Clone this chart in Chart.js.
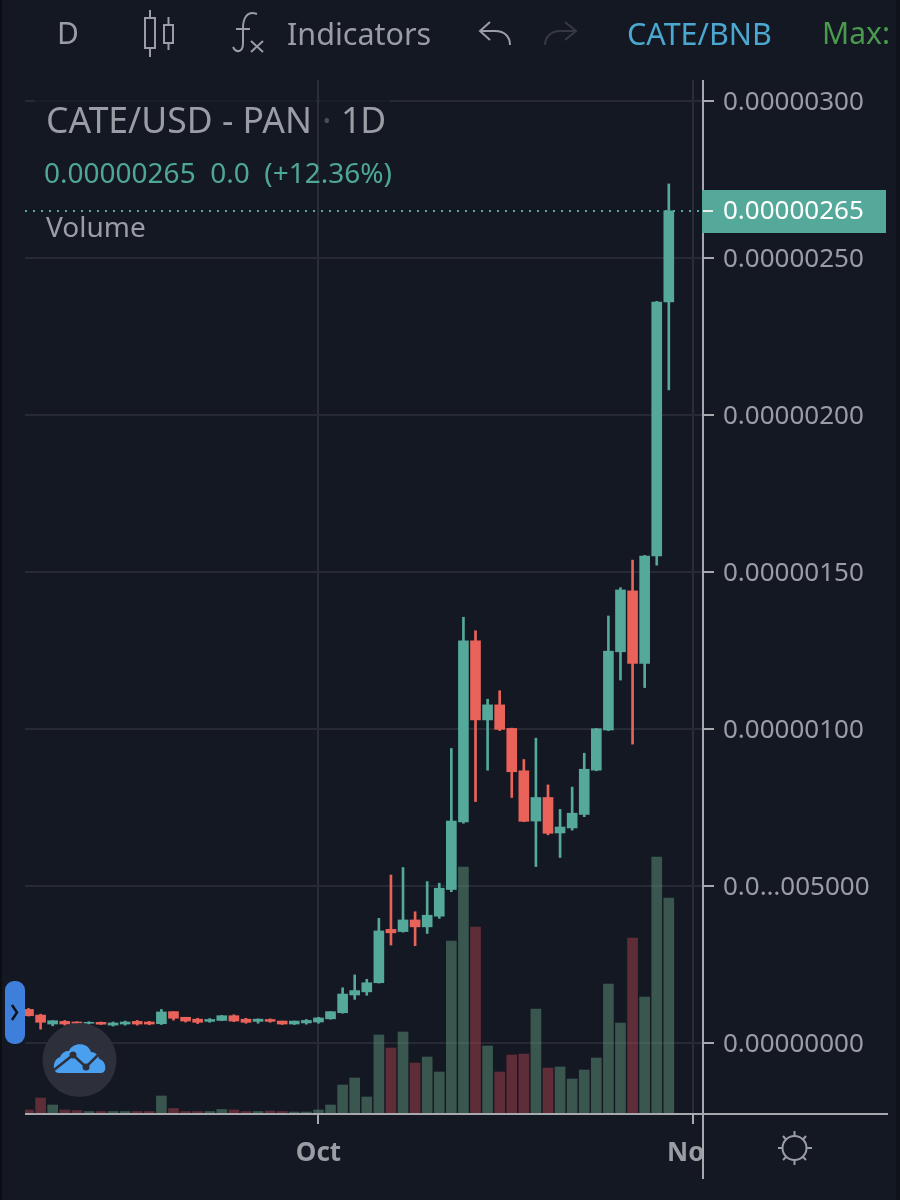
<!DOCTYPE html>
<html>
<head>
<meta charset="utf-8">
<title>CATE/USD</title>
<script src="https://cdn.jsdelivr.net/npm/chart.js@4"></script>
<style>
html, body { margin: 0; padding: 0; background: #141823; }
#wrap { position: relative; width: 900px; height: 1200px; overflow: hidden; font-family: "Noto Sans", sans-serif; }
canvas { position: absolute; left: 0; top: 0; }
.t { position: absolute; white-space: pre; color: #9b9da4; line-height: 1; }
svg { position: absolute; left: 0; top: 0; }
</style>
</head>
<body>
<div id="wrap">
  <canvas id="chart" width="900" height="1200"></canvas>
  <svg width="900" height="1200" fill="none" stroke="#9b9da4" stroke-width="2">
    <rect x="0" y="0" width="2" height="1200" fill="#0c0e14" stroke="none"/>
    <rect x="896" y="0" width="4" height="1200" fill="#101219" stroke="none"/>
    <!-- candle icon -->
    <rect x="145" y="18" width="10" height="30"/>
    <path d="M150 10V18M150 48V57"/>
    <rect x="164" y="25" width="9" height="18"/>
    <path d="M168.500 17V25M168.500 43V50"/>
    <!-- fx -->
    <path d="M257 14C246 10 243 20 243 28V43C243 53 236 53 233 47M236 29H250"/>
    <path d="M251 41L263 52M263 41L251 52"/>
    <!-- undo, redo -->
    <path d="M490 22L480 31L490 40M480 31H495C505 31 510 37 510 45"/>
    <path d="M565 22L576 31L565 40M576 31H560C551 31 545 37 545 45" stroke="#363944"/>
    <!-- settings -->
    <circle cx="794.500" cy="1148" r="12"/>
    <path d="M794.500 1131V1136M794.500 1160V1165M778 1148H782.500M807 1148H812M783 1136L786 1139.500M803 1157L806 1160M806 1136L803 1139.500M786 1157L783 1160"/>
    <!-- drawer handle -->
    <rect x="5" y="981" width="20" height="63" rx="9" fill="#3e7fdc" stroke="none"/>
    <path d="M12 1005L17 1012.500L12 1020" stroke="#10141f" stroke-width="2.500"/>
    <!-- cloud button -->
    <circle cx="79.500" cy="1060" r="37" fill="#2d303b" stroke="none"/>
    <path d="M59 1073C52 1073 52 1060 60 1057C63 1051 67 1051 69 1051C72 1043 87 1041 91 1052C96 1052 99 1056 99 1059C106 1060 108 1073 101 1073Z" fill="#4b9fef" stroke="none"/>
    <path d="M54 1070L73 1055L86 1067L99 1054" stroke="#2d303b" stroke-width="2.500"/>
    <circle cx="73" cy="1055" r="3.500" fill="#2d303b" stroke="none"/>
    <circle cx="86" cy="1067" r="3.500" fill="#2d303b" stroke="none"/>
  </svg>
  <div class="t" style="left:57px;top:18px;font-size:30px;">D</div>
  <div class="t" style="left:287px;top:18px;font-size:30.5px;">Indicators</div>
  <div class="t" style="left:627px;top:18px;font-size:30.5px;color:#4ba8d0;">CATE/BNB</div>
  <div class="t" style="left:822px;top:18px;font-size:30px;color:#4a9a4e;">Max:</div>
  <div class="t" style="left:46px;top:102px;font-size:35.5px;">CATE/USD - PAN</div>
  <div class="t" style="left:322px;top:102px;font-size:36px;color:#4a4d57;">·</div>
  <div class="t" style="left:341px;top:102px;font-size:35.5px;letter-spacing:-1px;">1D</div>
  <div class="t" style="left:44px;top:158px;font-size:28px;color:#4fa795;">0.00000265  0.0  (+12.36%)</div>
  <div class="t" style="left:46px;top:212px;font-size:28px;">Volume</div>
</div>
<script>
// price values are in units of 0.00000001
const opens = [10.7, 8.9, 6.05, 6.9, 6.7, 6.3, 6.6, 5.7, 6.05, 6.9, 6.7, 6.15, 10, 8.2, 7.6, 6.9, 7.2, 8.7, 7.6, 6.9, 7.5, 7.0, 6.05, 6.4, 6.7, 7.7, 9.65, 15.3, 16.3, 19.2, 36.2, 35.5, 39.2, 37, 40.4, 48.9, 70.4, 128.1, 102.9, 107.7, 100.2, 86.7, 70.7, 78.2, 66.9, 68.5, 72.8, 86.9, 99.7, 124.6, 144, 120.9, 155.1, 236];
const closes = [8.7, 6.6, 7.1, 6.05, 6.3, 6.6, 6.0, 6.4, 6.7, 6.05, 6.05, 9.9, 7.9, 7.0, 6.6, 7.5, 8.7, 7.0, 6.6, 7.6, 6.9, 6.05, 7.0, 7.2, 8.0, 10.0, 15.6, 16.7, 19.2, 35.7, 35.1, 39.2, 37.0, 40.7, 49.3, 70.7, 128.1, 102.9, 107.7, 99.9, 86.4, 70.6, 78.2, 66.8, 68.8, 73.2, 87.2, 100.1, 124.8, 144.3, 120.9, 155.1, 236, 265];
const highs = [11, 9.2, 7.1, 7.2, 6.8, 6.8, 6.7, 6.7, 7.0, 7.2, 6.9, 10.7, 10, 8.2, 7.9, 7.8, 8.8, 9.0, 7.9, 7.7, 7.7, 7.0, 7.0, 7.5, 8.2, 10.0, 17.6, 21.7, 20.3, 39.7, 53.5, 55.9, 41.8, 51.4, 50.9, 93.8, 135.6, 131.3, 109.5, 112.2, 100.3, 90.3, 97.1, 82.2, 74.4, 81.5, 92.3, 100.2, 136, 145, 153.8, 155.3, 236.2, 273.6];
const lows = [8.6, 4.4, 5.5, 5.7, 6.2, 6.0, 5.9, 5.4, 5.7, 5.7, 5.8, 5.9, 7.3, 6.7, 6.2, 6.6, 7.1, 6.8, 6.3, 6.3, 6.6, 5.9, 5.9, 6.0, 6.3, 7.6, 9.5, 13.9, 15.2, 19.1, 31.2, 35.3, 31, 34.9, 39.7, 48.2, 70, 76.9, 86.9, 99.5, 78.2, 70.5, 56.2, 66.3, 59.1, 67.8, 72.1, 86.7, 99.5, 115.6, 95.2, 113.2, 152.2, 208];
const volumes = [4, 16, 9, 4, 3.5, 2.5, 2.5, 2.5, 2.5, 2.5, 2.5, 18, 5.5, 2.5, 2.5, 2.5, 4.5, 4, 2.5, 2.5, 3, 2.5, 2, 2, 4, 9, 29, 36, 17, 79, 66, 82, 51, 57, 42, 173, 247, 187, 68, 42, 59, 60, 105, 46, 47, 35, 44, 56, 130, 91, 176, 117, 257, 216];
const priceTicks = [0, 50, 100, 150, 200, 250, 300];
const priceLabels = ['0.00000000', '0.0…005000', '0.00000100', '0.00000150', '0.00000200', '0.00000250', '0.00000300'];
const monthTicks = [24, 55]; // day index of Oct 1 and Nov 1
const monthLabels = ['Oct', 'Nov'];
const lastPrice = 265;
const lastPriceLabel = '0.00000265';

const bg = '#141823';
const upColor = '#55a99a';
const downColor = '#e9635a';
const upVol = 'rgba(96,150,123,0.5)';
const downVol = 'rgba(170,66,77,0.5)';
const axisColor = '#a7a9ae';
const textColor = '#9b9da4';
const fontFamily = '"Noto Sans", sans-serif';

const isUp = closes.map((c, i) => c >= opens[i]);
const candleColors = isUp.map(up => up ? upColor : downColor);

const decorations = {
    id: 'decorations',
    beforeDatasetsDraw(chart) {
        const { ctx, chartArea, scales } = chart;
        ctx.save();
        // price panel covers the end of the last month label
        ctx.fillStyle = bg;
        ctx.fillRect(chartArea.right, chartArea.bottom + 1, 40, 70);
        // top grid line fades out behind the legend
        const y = scales.y.getPixelForValue(300);
        ctx.globalAlpha = 0.75;
        ctx.fillRect(35, y - 2, 281, 4);
        ctx.fillRect(320, y - 2, 70, 4);
        ctx.restore();
    },
    afterDatasetsDraw(chart) {
        const { ctx, chartArea, scales } = chart;
        const y = Math.round(scales.y.getPixelForValue(lastPrice));
        ctx.save();

        // dotted last price line
        ctx.strokeStyle = upColor;
        ctx.lineWidth = 2;
        ctx.setLineDash([2, 6]);
        ctx.beginPath();
        ctx.moveTo(chartArea.left, y);
        ctx.lineTo(chartArea.right, y);
        ctx.stroke();
        ctx.setLineDash([]);

        // axis lines
        ctx.strokeStyle = axisColor;
        ctx.lineWidth = 2;
        ctx.beginPath();
        ctx.moveTo(chartArea.left, chartArea.bottom);
        ctx.lineTo(888, chartArea.bottom);
        ctx.moveTo(chartArea.right, chartArea.top);
        ctx.lineTo(chartArea.right, 1179);
        ctx.stroke();

        // last price tag
        ctx.fillStyle = upColor;
        ctx.fillRect(chartArea.right - 1, y - 21, 184, 43);
        ctx.fillStyle = '#e8ecea';
        ctx.fillRect(chartArea.right, y - 1, 10, 2);
        ctx.font = '26px ' + fontFamily;
        ctx.textBaseline = 'middle';
        ctx.fillStyle = '#ffffff';
        ctx.fillText(lastPriceLabel, 723, y + 1);
        ctx.restore();
    }
};

new Chart(document.getElementById('chart').getContext('2d'), {
    type: 'bar',
    data: {
        datasets: [
            {
                label: 'Body',
                data: opens.map((o, i) => ({ x: i, y: [o, closes[i]] })),
                backgroundColor: candleColors,
                barThickness: 10,
                grouped: false,
                order: 1
            },
            {
                label: 'Wick',
                data: lows.map((l, i) => ({ x: i, y: [l, highs[i]] })),
                backgroundColor: candleColors,
                barThickness: 2,
                grouped: false,
                order: 2
            },
            {
                label: 'Volume',
                data: volumes.map((v, i) => ({ x: i, y: v })),
                backgroundColor: isUp.map(up => up ? upVol : downVol),
                barThickness: 10,
                grouped: false,
                yAxisID: 'vol',
                order: 3
            }
        ]
    },
    options: {
        responsive: false,
        animation: false,
        devicePixelRatio: 1,
        layout: { padding: { left: 25, top: 80, right: 0, bottom: 0 } },
        plugins: { legend: { display: false }, tooltip: { enabled: false } },
        scales: {
            x: {
                type: 'linear',
                min: -0.29,
                max: 55.83,
                offset: false,
                border: { display: false },
                grid: { offset: false, color: '#2b2e38', lineWidth: 2, tickColor: axisColor, tickLength: 10 },
                ticks: {
                    autoSkip: false,
                    maxRotation: 0,
                    padding: 14,
                    color: textColor,
                    font: { family: fontFamily, size: 26, weight: 'bold' },
                    callback: value => monthLabels[monthTicks.indexOf(value)]
                },
                afterBuildTicks(scale) { scale.ticks = monthTicks.map(value => ({ value })); },
                afterFit(scale) { scale.height = 86; }
            },
            y: {
                position: 'right',
                min: -22.6,
                max: 306.7,
                border: { display: false },
                grid: { color: '#272a34', lineWidth: 2, tickColor: axisColor, tickLength: 11 },
                ticks: {
                    autoSkip: false,
                    padding: 9,
                    align: 'center',
                    color: textColor,
                    // the empty first line moves the text down onto its grid line
                    font: { family: fontFamily, size: 26, lineHeight: '4px' },
                    callback: value => ['', priceLabels[priceTicks.indexOf(value)]]
                },
                afterBuildTicks(scale) { scale.ticks = priceTicks.map(value => ({ value })); },
                afterFit(scale) { scale.width = 197; }
            },
            vol: { display: false, min: 0, max: 1034 }
        }
    },
    plugins: [decorations]
});
</script>
</body>
</html>
